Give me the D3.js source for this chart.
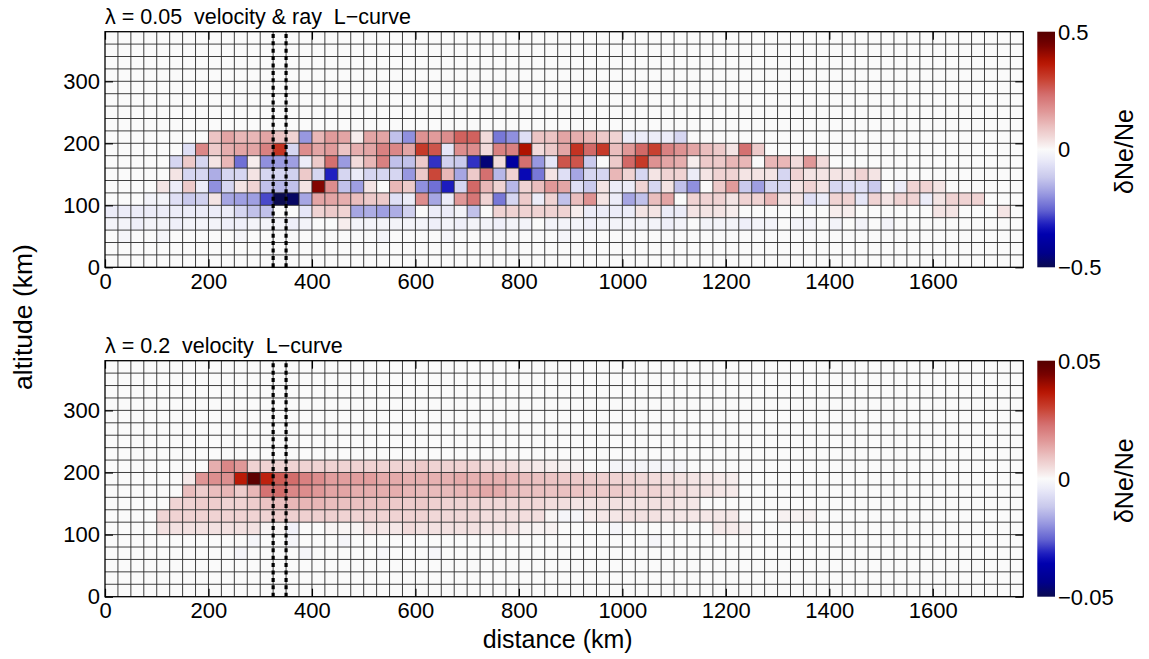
<!DOCTYPE html>
<html><head><meta charset="utf-8">
<script src="https://cdn.jsdelivr.net/npm/d3@7"></script>
<style>
body{margin:0;background:#fff;}
text{font-family:"Liberation Sans",Arial,Helvetica,sans-serif;fill:#000;}
</style>
</head><body>
<svg id="chart" width="1149" height="659"></svg>
<script>
// ---------------- data ----------------
const xTicks = [0,200,400,600,800,1000,1200,1400,1600];
const yTicks = [0,100,200,300];
const distanceMax = 1775, altitudeMax = 380;
const cellWidthKm = 25, cellHeightKm = 20;
const rayLinesKm = [325, 350];

const topTitle = "λ = 0.05  velocity & ray  L−curve";
const bottomTitle = "λ = 0.2  velocity  L−curve";
const topBarTicks = [0.5, 0, -0.5];
const topBarLabels = ["0.5", "0", "−0.5"];
const bottomBarTicks = [0.05, 0, -0.05];
const bottomBarLabels = ["0.05", "0", "−0.05"];

// top panel (lambda = 0.05): one array per 20-km altitude row (row bottom altitude), one value per 25-km column
const topAltitudes = [200,180,160,140,120,100,80,60,40];
const topRow200 = [0,0,0,0,0,0,0,0, 0.09,0.14,0.11,0.11,0.14,0.09,0.065,-0.19, 0.11,0.155,0.14,0.02,0.14,0.14,-0.13,-0.2, 0.17,0.155,0.18,0.25,0.25,0.05,-0.23,-0.2, -0.07,0.09,0.09,0.14,0.125,0.11,0.08,0.065, -0.04,-0.04,-0.04,-0.04,-0.09];
const topRow180 = [0,0,0,0,0,0,-0.07,0.19, 0.08,0.125,0.14,0.14,0.2,0.32,-0.09,0.18, 0.14,0.155,0.09,0.125,0.14,0.2,0.19,0.14, 0.31,0.27,-0.055,0.18,0.18,0.05,0.2,0.2, 0.38,0.05,0.08,0.14,0.32,0.24,0.31,0.1, 0.16,0.24,0.3,0.2,0.17,0.14,0.1,0.08, 0.035,0.23,0.08];
const topRow160 = [0,0,0,0,0,-0.09,0.08,-0.09, 0.035,0.11,-0.24,0.02,-0.2,-0.185,-0.18,-0.04, 0.08,0.23,-0.185,0.05,0.11,0.2,-0.13,-0.13, 0.08,-0.3,-0.1,-0.115,-0.3,-0.46,0.05,-0.39, 0.23,-0.19,-0.055,0.27,0.27,-0.115,0,0.08, 0.24,0.31,0.17,0.14,0.125,0.02,0.08,0.08, 0.11,0.11,0,0.11,0.11,0.05,0.16,0.05];
const topRow140 = [0,0,0,0,0,0.035,-0.09,-0.09, -0.16,-0.09,-0.09,0.035,-0.09,-0.09,-0.1,0.08, -0.09,-0.315,-0.09,-0.04,-0.09,-0.09,-0.09,-0.19, 0.08,0.29,0.11,-0.17,0.08,0.23,-0.145,0.065, -0.345,-0.23,0.035,-0.07,-0.17,-0.09,-0.09,0.11, 0.065,-0.09,0.035,0.065,0.065,-0.04,0.035,0.065, 0.065,0.035,0.035,0.035,-0.09,0.065,0.035,0.035, 0.035,0.035,0.065,0.035];
const topRow120 = [0,0,0,0,0.035,-0.04,0.08,-0.04, -0.2,-0.09,0.035,0.065,-0.13,-0.145,-0.13,0.035, 0.43,0.18,-0.13,-0.18,0.035,0,0.11,0.08, -0.2,-0.24,-0.32,-0.09,0.24,0.11,0.065,-0.145, 0.065,0.1,0.16,0.14,-0.07,-0.115,0.035,-0.04, -0.04,0.065,-0.09,0.035,-0.13,-0.2,0,0.08, 0.155,-0.115,-0.18,-0.09,-0.09,0.035,0.065,0.035, -0.09,-0.07,-0.07,-0.115,0,-0.04,0.065,0.065, 0.035];
const topRow100 = [0,0,0,-0.02,-0.02,-0.07,-0.115,-0.1, 0.035,-0.17,-0.18,-0.18,-0.28,-0.5,-0.48,-0.17, 0.14,0.14,0.125,0.1,0.08,0.08,-0.07,-0.04, 0.18,-0.17,-0.04,0.16,0.22,0.065,-0.23,-0.09, 0.08,-0.04,0.065,-0.13,0.1,0.17,0.035,-0.04, -0.17,-0.13,0.1,0.14,0,0.065,0.065,0.065, 0.035,0.065,0.065,0.11,0.035,0.035,-0.07,-0.04, 0.065,0.065,-0.055,0.065,0.035,0.065,0.065,-0.04, 0.035,0.065,0.065,0.065];
const topRow80 = [-0.04,-0.04,-0.04,-0.04,-0.04,-0.04,-0.04,-0.04, -0.04,-0.04,-0.09,-0.13,-0.13,0,0,-0.055, 0.065,0.08,0.065,-0.17,-0.16,-0.18,-0.16,-0.1, 0,-0.04,-0.04,-0.02,-0.13,0,0.065,0.065, 0.065,0.065,0.065,0.065,0.02,-0.04,-0.04,-0.04, -0.04,0.035,0.035,-0.04,-0.04,0.035,0.035,0.035, 0.02,0,0,0,0,0,0,0, 0.02,0.02,0,0,0,0,0,0, 0.035,0.035,0,0,0,0.035];
const topRow60 = [-0.02,-0.02,-0.03,-0.02,-0.02,-0.03,-0.02,-0.02, -0.02,-0.03,-0.03,-0.02,-0.02,-0.02,-0.03,-0.02, 0,0,0.02,-0.02,-0.02,-0.02,-0.02,-0.02, -0.02,-0.03,-0.02,-0.03,-0.02,-0.02,-0.03,-0.02, -0.02,0,-0.02,-0.02,-0.02,-0.03,-0.02,-0.02, -0.02,-0.02,-0.02,-0.03,-0.02,0,-0.02,-0.02, -0.02,-0.03,-0.02,-0.02,0,-0.02,-0.02,0, -0.02,0,-0.02,0,-0.02];
const topRow40 = [0,-0.015,0,0,-0.015,0,0,0, 0,0,-0.015,0,0,0,0,0, 0,0,0,0,0,-0.015,0,0, 0,0,-0.015,0,0,0,0,0, 0,0,0,-0.015];

// bottom panel (lambda = 0.2)
const bottomAltitudes = [200,180,160,140,120,100,80,60];
const bottomRow200 = [0,0,0,0,0,0,0,0, 0.0125,0.019,0.016,0.0065,0.0065,0.0065,0.0065,0.0065, 0.0065,0.0065,0.0065,0.0065,0.0065,0.0065,0.0065,0.0065, 0.008,0.0065,0.0065,0.0065,0.0065,0.005,0.0045,0.0045, 0.003,0.0025,0.002,0.0015,0.001,0,0,-0.0015, -0.0015,-0.0015,-0.0015,-0.0015,-0.0015];
const bottomRow180 = [0,0,0,0,0,0,0.0025,0.0165, 0.0175,0.0175,0.036,0.0485,0.035,0.026,0.0235,0.02, 0.018,0.015,0.015,0.015,0.015,0.013,0.013,0.012, 0.012,0.012,0.012,0.013,0.012,0.012,0.012,0.011, 0.01,0.0095,0.009,0.0085,0.008,0.0075,0.007,0.0065, 0.006,0.0055,0.005,0.0045,0.004,0.0035,0.003,0.0025, 0.002];
const bottomRow160 = [0,0,0,0,0,0,0.01,0.0075, 0.01,0.011,0.0075,0.011,0.0225,0.0235,0.019,0.018, 0.016,0.014,0.014,0.0125,0.0125,0.0125,0.0125,0.011, 0.0105,0.0105,0.0105,0.011,0.012,0.0135,0.013,0.0105, 0.0095,0.0095,0.009,0.0095,0.009,0.008,0.008,0.008, 0.007,0.006,0.0065,0.005,0.005,0.004,0.0035,0.003, 0.0025];
const bottomRow140 = [0,0,0,0,0,0.006,0.0065,0.0075, 0.0075,0.0065,0.0065,0.0075,0.009,0.01,0.011,0.011, 0.011,0.01,0.0095,0.0095,0.009,0.009,0.008,0.0075, 0.008,0.007,0.0065,0.0065,0.0065,0.0055,0.0055,0.0055, 0.0055,0.0055,0.0045,0.0045,0.0035,0.0035,0.004,0.004, 0.0035,0.0035,0.004,0.004,0.003,0.003];
const bottomRow120 = [0,0,0,0,0.006,0.0065,0.0065,0.0065, 0.0065,0.0065,0.0065,0.0065,0.0065,0.0075,0.007,0.007, 0.007,0.007,0.0065,0.0065,0.0065,0.0065,0.0065,0.0065, 0.0065,0.0055,0.0055,0.0055,0.0055,0.0045,0.0045,0.0045, 0.0045,0.0045,0.001,-0.0015,-0.0015,0.002,0.003,0.003, 0.004,0.004,0.004,0.003,0.003,0.003,0.003,0.003, 0.003,0,0,0,0.0015,0.0015,0.0015];
const bottomRow100 = [0,0,0,0,0.004,0.004,0.004,0.004, 0.004,0.004,0.004,0.004,0.001,0.001,-0.0025,0, 0,0.001,0.001,0.001,0.003,0.003,0.003,0.005, 0.004,0.004,0.004,0.004,0.004,0.003,0.003,0.003, 0.0015,0.0015,0.0015,0,0,0,0,-0.0015, 0,0,0,0,0,0,0,0.0025, 0.0025,0.0015];
const bottomRow80 = [0,0,0,0,0,0,0,0, 0,0,0,-0.0015,0,0,-0.0015,0, 0,0,-0.0015,0,0,0,0,0, 0,0,0,0,0,0,0,0, 0,0,0,0,0,0,0,0, 0,0,-0.0015];
const bottomRow60 = [0,0,0,0,0,0,0,0, 0,0,-0.0015,0,0,0,0,-0.0015, 0,0,0,0,0,-0.001,0,0, 0,-0.001];

// colormap (normalised -1..1)
const cmapStops = [-1,-0.88,-0.71,-0.63,-0.52,-0.38,-0.24,-0.1,0,0.07,0.18,0.32,0.46,0.6,0.74,0.9,1];
const cmapColors = ["#0a0a50","#00008a","#0000b0","#2020c0","#6060d0","#9898e0","#c8c8ec","#e8e8f8","#fafafa","#f4e4e4","#ecc4c4","#e09898","#d47070","#c84030","#b81400","#700000","#560000"];

// ---------------- drawing ----------------
const svg = d3.select("#chart");
const plotLeft = 105, plotRight = 1023.3;
const panels = [
  {top:31.7, bottom:267.3, title:topTitle, max:0.5, alts:topAltitudes,
   rows:[topRow200,topRow180,topRow160,topRow140,topRow120,topRow100,topRow80,topRow60,topRow40],
   barTicks:topBarTicks, barLabels:topBarLabels},
  {top:360.7, bottom:596.7, title:bottomTitle, max:0.05, alts:bottomAltitudes,
   rows:[bottomRow200,bottomRow180,bottomRow160,bottomRow140,bottomRow120,bottomRow100,bottomRow80,bottomRow60],
   barTicks:bottomBarTicks, barLabels:bottomBarLabels}
];

const x = d3.scaleLinear().domain([0, distanceMax]).range([plotLeft, plotRight]);
const defs = svg.append("defs");

panels.forEach((p, pi) => {
  const y = d3.scaleLinear().domain([0, altitudeMax]).range([p.bottom, p.top]);
  const color = d3.scaleLinear().domain(cmapStops.map(s => s * p.max)).range(cmapColors).clamp(true);
  const g = svg.append("g");

  g.append("rect").attr("x", x(0)).attr("y", y(altitudeMax))
    .attr("width", x(distanceMax) - x(0)).attr("height", y(0) - y(altitudeMax)).attr("fill", "#fafafa");

  const cells = [];
  p.rows.forEach((row, ri) => {
    row.forEach((v, ci) => { if (v !== 0) cells.push({alt: p.alts[ri], col: ci, v}); });
  });
  g.selectAll("rect.cell").data(cells).join("rect").attr("class","cell")
    .attr("x", d => x(d.col * cellWidthKm))
    .attr("y", d => y(d.alt + cellHeightKm))
    .attr("width", d => x((d.col + 1) * cellWidthKm) - x(d.col * cellWidthKm))
    .attr("height", d => y(d.alt) - y(d.alt + cellHeightKm))
    .attr("fill", d => color(d.v));

  // grid
  const vLines = d3.range(cellWidthKm, distanceMax, cellWidthKm);
  const hLines = d3.range(cellHeightKm, altitudeMax, cellHeightKm);
  g.selectAll("line.v").data(vLines).join("line").attr("class","v")
    .attr("x1", d => x(d)).attr("x2", d => x(d)).attr("y1", y(0)).attr("y2", y(altitudeMax))
    .attr("stroke", "#2b2b2b").attr("stroke-width", 0.9);
  g.selectAll("line.h").data(hLines).join("line").attr("class","h")
    .attr("y1", d => y(d)).attr("y2", d => y(d)).attr("x1", x(0)).attr("x2", x(distanceMax))
    .attr("stroke", "#2b2b2b").attr("stroke-width", 0.9);

  // ray-path dotted lines
  g.selectAll("line.ray").data(rayLinesKm).join("line").attr("class","ray")
    .attr("x1", d => x(d)).attr("x2", d => x(d)).attr("y1", y(0)).attr("y2", y(altitudeMax))
    .attr("stroke", "#000").attr("stroke-width", 3.2).attr("stroke-dasharray", "4,3.4");

  // axes
  const ax = (sel) => { sel.select(".domain").remove(); sel.selectAll("line").attr("stroke","#000").attr("stroke-width",1.2); };
  g.append("g").attr("transform", `translate(0,${y(0)})`)
    .call(d3.axisBottom(x).tickValues(xTicks).tickFormat(d3.format("d")).tickSize(-8).tickPadding(6)).call(ax)
    .selectAll("text").attr("font-size", 22).attr("font-family", "Liberation Sans, Arial, sans-serif");
  g.append("g").attr("transform", `translate(0,${y(altitudeMax)})`)
    .call(d3.axisTop(x).tickValues(xTicks).tickSize(-8).tickFormat("")).call(ax);
  g.append("g").attr("transform", `translate(${x(0)},0)`)
    .call(d3.axisLeft(y).tickValues(yTicks).tickFormat(d3.format("d")).tickSize(-8).tickPadding(5)).call(ax)
    .selectAll("text").attr("font-size", 22).attr("font-family", "Liberation Sans, Arial, sans-serif");
  g.append("g").attr("transform", `translate(${x(distanceMax)},0)`)
    .call(d3.axisRight(y).tickValues(yTicks).tickSize(-8).tickFormat("")).call(ax);

  g.append("rect").attr("x", x(0)).attr("y", y(altitudeMax))
    .attr("width", x(distanceMax) - x(0)).attr("height", y(0) - y(altitudeMax))
    .attr("fill", "none").attr("stroke", "#000").attr("stroke-width", 1.3);

  // title
  g.append("text").attr("x", x(0)).attr("y", p.top - 8).attr("font-size", 21.5)
    .style("white-space", "pre").text(p.title);

  // colour bar
  const cb = d3.scaleLinear().domain([-p.max, p.max]).range([p.bottom, p.top]);
  const gid = "grad" + pi;
  const grad = defs.append("linearGradient").attr("id", gid)
    .attr("x1", 0).attr("y1", 1).attr("x2", 0).attr("y2", 0);
  d3.range(0, 1.0001, 0.02).forEach(t => {
    grad.append("stop").attr("offset", t).attr("stop-color", color(-p.max + 2 * p.max * t));
  });
  const cbX = 1037.3, cbW = 17.7;
  g.append("rect").attr("x", cbX).attr("y", cb(p.max)).attr("width", cbW)
    .attr("height", cb(-p.max) - cb(p.max)).attr("fill", `url(#${gid})`);
  g.selectAll("text.cbl").data(p.barTicks).join("text").attr("class","cbl")
    .attr("x", cbX + cbW + 3).attr("y", d => cb(d)).attr("dy", "0.36em")
    .attr("font-size", 22).text((d, i) => p.barLabels[i]);
  g.append("text").attr("transform", `translate(1133,${(p.top + p.bottom) / 2 + 2}) rotate(-90)`)
    .attr("text-anchor", "middle").attr("font-size", 25).text("δNe/Ne");
});

svg.append("text").attr("transform", "translate(32,317) rotate(-90)")
  .attr("text-anchor", "middle").attr("font-size", 26.5).text("altitude (km)");
svg.append("text").attr("x", x(875)).attr("y", 648)
  .attr("text-anchor", "middle").attr("font-size", 25).text("distance (km)");
</script>
</body></html>
